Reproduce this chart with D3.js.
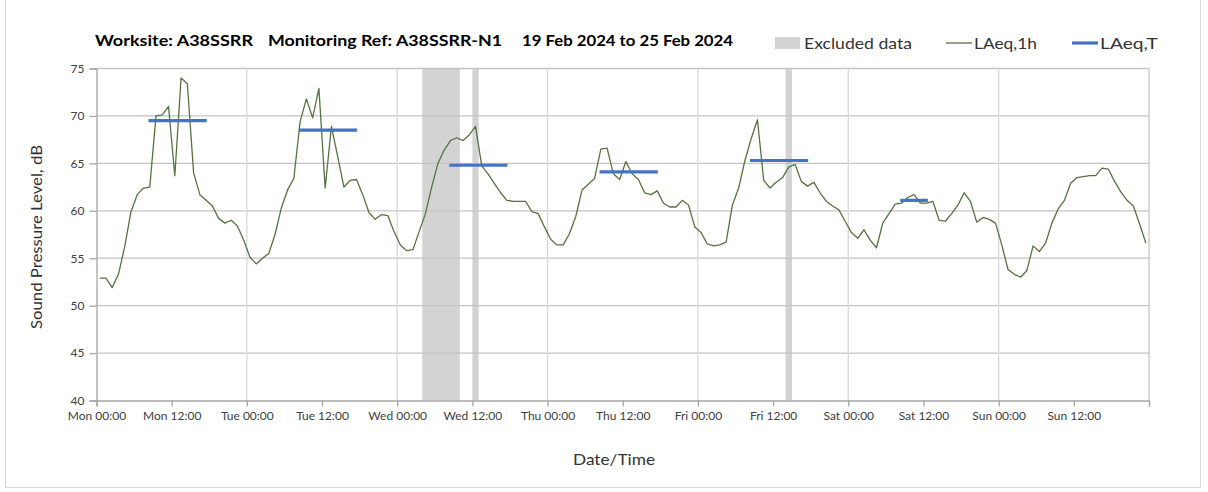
<!DOCTYPE html>
<html><head><meta charset="utf-8">
<script src="https://cdn.jsdelivr.net/npm/d3@7"></script>
<style>body{margin:0;background:#fff}svg{display:block}text{font-family:Lato,"Open Sans",sans-serif}</style>
</head><body>
<svg id="c" width="1208" height="492"></svg>
<script>
// hourly LAeq,1h values, Mon 00:00 .. Sun 23:00
const laeq1h = [
52.9,52.9,51.9,53.3,56.2,59.9,61.7,62.4,62.5,70.0,70.1,71.0,63.7,74.0,73.4,64.0,61.7,61.1,60.5,59.2,58.7,59.0,58.4,56.9,
55.1,54.4,55.0,55.5,57.5,60.3,62.2,63.4,69.4,71.8,69.8,72.9,62.4,68.9,65.7,62.5,63.2,63.3,61.7,59.8,59.1,59.6,59.5,57.8,
56.4,55.8,55.9,57.8,59.7,62.5,65.0,66.4,67.4,67.7,67.4,68.0,68.9,64.7,63.9,62.9,61.9,61.1,61.0,61.0,61.0,59.9,59.7,58.3,
57.0,56.4,56.4,57.6,59.4,62.2,62.8,63.4,66.5,66.6,63.9,63.3,65.2,63.9,63.3,61.9,61.7,62.1,60.8,60.4,60.4,61.1,60.6,58.3,
57.7,56.5,56.3,56.4,56.7,60.6,62.4,65.3,67.6,69.6,63.2,62.4,63.0,63.5,64.6,64.9,63.1,62.6,63.0,61.9,61.0,60.5,60.1,58.9,
57.7,57.1,58.0,56.9,56.1,58.7,59.7,60.7,60.8,61.4,61.7,60.8,60.8,61.0,59.0,58.9,59.7,60.6,61.9,61.0,58.8,59.3,59.1,58.7,
56.4,53.8,53.3,53.0,53.7,56.3,55.7,56.6,58.7,60.2,61.1,62.9,63.5,63.6,63.7,63.7,64.5,64.4,63.1,62.0,61.1,60.5,58.6,56.6
];
// LAeq,T periods (hours from Mon 00:00)
const periodStart = [8.3, 32.3, 56.3, 80.3, 104.3, 128.3];
const periodEnd   = [17.6, 41.6, 65.6, 89.6, 113.6, 132.7];
const laeqT       = [69.5, 68.5, 64.8, 64.1, 65.3, 61.1];
// excluded data (hours)
const exclStart = [52, 60, 110];
const exclEnd   = [58, 61, 111];
// axis
const dayNames = ["Mon","Tue","Wed","Thu","Fri","Sat","Sun"];
const xTickLabels = dayNames.flatMap(d => [d + " 00:00", d + " 12:00"]);
const yTicks = [40,45,50,55,60,65,70,75];

const svg = d3.select("#c");
const L = 96.5, R = 1149, T = 68.5, B = 400.5;
const x = d3.scaleLinear().domain([0,168]).range([L,R]);
const y = d3.scaleLinear().domain([40,75]).range([B,T]);

// outer frame
svg.append("rect").attr("x",5.5).attr("y",-1).attr("width",1195).attr("height",488.5)
  .attr("fill","none").attr("stroke","#d9d9d9");

// excluded bands
svg.append("g").selectAll("rect").data(exclStart).join("rect")
  .attr("x",(d)=>x(d)).attr("width",(d,i)=>x(exclEnd[i])-x(d))
  .attr("y",T).attr("height",B-T).attr("fill","#d3d3d3");

// gridlines
svg.append("g").selectAll("line").data(yTicks.slice(1)).join("line")
  .attr("x1",L).attr("x2",R).attr("y1",d=>y(d)).attr("y2",d=>y(d))
  .attr("stroke","#c4c4c4").attr("stroke-width",1.3);
svg.append("g").selectAll("line").data(d3.range(24,168,24)).join("line")
  .attr("x1",d=>x(d)).attr("x2",d=>x(d)).attr("y1",T).attr("y2",B)
  .attr("stroke","#d9d9d9").attr("stroke-width",1.3);
// right border
svg.append("line").attr("x1",R).attr("x2",R).attr("y1",T).attr("y2",B).attr("stroke","#c4c4c4").attr("stroke-width",1.3);

// y axis
const yAxis = d3.axisLeft(y).tickValues(yTicks).tickSize(7).tickPadding(5);
const gy = svg.append("g").attr("transform",`translate(${L},0)`).call(yAxis);
gy.select(".domain").attr("stroke","#a6a6a6").attr("stroke-width",1.3);
gy.selectAll(".tick line").attr("stroke","#a6a6a6").attr("stroke-width",1.3).attr("x2",-7);
gy.selectAll("text").attr("fill","#404040").style("font-size","12px").style("font-family","Lato,sans-serif");

// x axis
const xAxis = d3.axisBottom(x).tickValues(d3.range(0,169,12))
  .tickFormat((d,i)=> xTickLabels[i] || "").tickSize(6).tickPadding(5);
const gx = svg.append("g").attr("transform",`translate(0,${B})`).call(xAxis);
gx.select(".domain").attr("stroke","#a6a6a6").attr("stroke-width",1.3);
gx.selectAll(".tick line").attr("stroke","#a6a6a6").attr("stroke-width",1.3);
gx.selectAll("text").attr("fill","#404040").style("font-size","12px").style("font-family","Lato,sans-serif");

// LAeq,1h line
const line = d3.line().x((d,i)=>x(i+0.5)).y(d=>y(d));
svg.append("path").datum(laeq1h).attr("d",line).attr("fill","none")
  .attr("stroke","#557340").attr("stroke-width",1.3).attr("stroke-linejoin","round");

// LAeq,T
svg.append("g").selectAll("line").data(laeqT).join("line")
  .attr("x1",(d,i)=>x(periodStart[i])).attr("x2",(d,i)=>x(periodEnd[i]))
  .attr("y1",d=>y(d)).attr("y2",d=>y(d))
  .attr("stroke","#4472c4").attr("stroke-width",3.2);

// title
const tt = svg.append("g").attr("font-weight","bold").attr("fill","#000").style("font-size","16px");
tt.append("text").attr("x",95).attr("y",46).attr("textLength",158).attr("lengthAdjust","spacingAndGlyphs").text("Worksite: A38SSRR");
tt.append("text").attr("x",268).attr("y",46).attr("textLength",234).attr("lengthAdjust","spacingAndGlyphs").text("Monitoring Ref: A38SSRR-N1");
tt.append("text").attr("x",522).attr("y",46).attr("textLength",211).attr("lengthAdjust","spacingAndGlyphs").text("19 Feb 2024 to 25 Feb 2024");

// legend
const lg = svg.append("g").style("font-size","16px").attr("fill","#333");
lg.append("rect").attr("x",775).attr("y",37).attr("width",25).attr("height",12).attr("fill","#d3d3d3");
lg.append("text").attr("x",804).attr("y",49).attr("textLength",108).attr("lengthAdjust","spacingAndGlyphs").text("Excluded data");
lg.append("line").attr("x1",946).attr("x2",972).attr("y1",43).attr("y2",43).attr("stroke","#557340").attr("stroke-width",1.3);
lg.append("text").attr("x",974).attr("y",49).attr("textLength",63).attr("lengthAdjust","spacingAndGlyphs").text("LAeq,1h");
lg.append("line").attr("x1",1072).attr("x2",1098).attr("y1",43).attr("y2",43).attr("stroke","#4472c4").attr("stroke-width",3.2);
lg.append("text").attr("x",1100).attr("y",49).attr("textLength",58).attr("lengthAdjust","spacingAndGlyphs").text("LAeq,T");

// axis titles
svg.append("text").attr("transform","translate(42,237) rotate(-90)").attr("text-anchor","middle")
  .style("font-size","16px").attr("fill","#333").attr("textLength",184).attr("lengthAdjust","spacingAndGlyphs")
  .text("Sound Pressure Level, dB");
svg.append("text").attr("x",614).attr("y",465).attr("text-anchor","middle")
  .style("font-size","16px").attr("fill","#333").attr("textLength",82).attr("lengthAdjust","spacingAndGlyphs")
  .text("Date/Time");
</script>
</body></html>
